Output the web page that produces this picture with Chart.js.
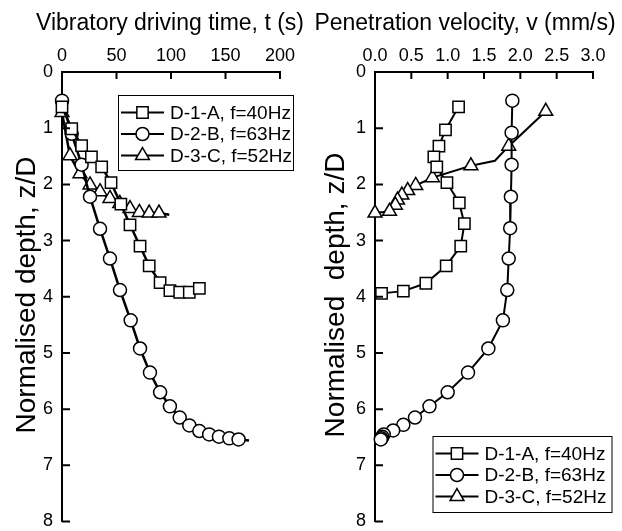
<!DOCTYPE html>
<html>
<head>
<meta charset="utf-8">
<script src="https://cdn.jsdelivr.net/npm/chart.js@4.4.1/dist/chart.umd.min.js"></script>
<style>
  html, body { margin: 0; padding: 0; background: #fff; }
  #wrap { position: relative; width: 622px; height: 531px; }
  canvas { position: absolute; top: 0; }
</style>
</head>
<body>
<div id="wrap">
  <canvas id="timeChart" width="311" height="531" style="left:0"></canvas>
  <canvas id="velChart" width="311" height="531" style="left:311px"></canvas>
</div>
<script>
// series names
const seriesNames = ['D-1-A, f=40Hz', 'D-2-B, f=63Hz', 'D-3-C, f=52Hz'];

// left panel: driving time (s) vs normalised depth
const tSquare = [0, 8.9, 18, 27, 36.4, 45, 54, 62.4, 71.6, 80, 90, 99, 108, 116.8, 126];
const zSquare = [0.62, 1.01, 1.31, 1.51, 1.69, 1.97, 2.35, 2.72, 3.10, 3.45, 3.75, 3.89, 3.92, 3.92, 3.85];
const tCircle = [0, 8.9, 18, 25.7, 34.9, 44, 53.2, 63, 71.6, 80.7, 90, 99, 108, 116.8, 126, 135, 144, 153.5, 162, 171.6];
const zCircle = [0.51, 1.10, 1.65, 2.22, 2.79, 3.32, 3.88, 4.42, 4.92, 5.35, 5.70, 5.95, 6.15, 6.29, 6.39, 6.45, 6.49, 6.52, 6.54, 6.56];
const tTri = [0, 7.3, 16.5, 25.7, 34.9, 44, 53, 62.4, 71, 80, 89, 98.4];
const zTri = [0.72, 1.49, 1.81, 2.01, 2.13, 2.25, 2.34, 2.43, 2.50, 2.51, 2.51, 2.54];

// right panel: penetration velocity (mm/s) vs normalised depth
const vSquare = [1.15, 0.97, 0.88, 0.81, 0.85, 0.99, 1.16, 1.23, 1.18, 0.98, 0.70, 0.39, 0.09, 0];
const zSquareV = [0.62, 1.03, 1.32, 1.51, 1.69, 1.97, 2.33, 2.70, 3.10, 3.45, 3.76, 3.90, 3.94, 3.95];
const vCircle = [1.89, 1.88, 1.88, 1.87, 1.86, 1.84, 1.82, 1.76, 1.56, 1.28, 1.00, 0.75, 0.55, 0.39, 0.25, 0.12, 0.10, 0.09, 0.08];
const zCircleV = [0.51, 1.08, 1.65, 2.22, 2.78, 3.32, 3.88, 4.42, 4.92, 5.35, 5.70, 5.95, 6.15, 6.28, 6.38, 6.45, 6.49, 6.52, 6.54];
const vTri = [2.35, 1.84, 1.65, 1.32, 0.79, 0.56, 0.45, 0.37, 0.31, 0.28, 0.20, 0];
const zTriV = [0.70, 1.32, 1.58, 1.67, 1.88, 2.02, 2.11, 2.19, 2.28, 2.37, 2.48, 2.51];

// line vertices without a marker
const noMarkTimeCircle = [19];
const noMarkTimeTri = [11];
const noMarkVelSquare = [13];
const noMarkVelTri = [2];

// axis ticks
const timeTicks = [0, 50, 100, 150, 200];
const velTicks = [0, 0.5, 1.0, 1.5, 2.0, 2.5, 3.0];
const depthTicks = [0, 1, 2, 3, 4, 5, 6, 7, 8];

const FONT = '"Liberation Sans", Arial, sans-serif';
const styles = ['rect', 'circle', 'triangle'];
const radii = { rect: 8, circle: 6.5, triangle: 8 };

function makeSet(i, xs, ys, noMark, lw) {
  const r = radii[styles[i]];
  return {
    label: seriesNames[i],
    data: xs.map((x, k) => ({ x: x, y: ys[k] })),
    showLine: true,
    borderColor: '#000',
    borderWidth: lw,
    tension: 0,
    pointStyle: styles[i],
    pointRadius: xs.map((x, k) => noMark.includes(k) ? 0 : r),
    pointBackgroundColor: '#fff',
    pointBorderColor: '#000',
    pointBorderWidth: 1.5,
    clip: false
  };
}

// inward ticks, axis titles and boxed legend
const framePlugin = {
  id: 'frame',
  afterDraw(chart, args, opts) {
    const ctx = chart.ctx;
    const a = chart.chartArea;
    const xs = chart.scales.x, ys = chart.scales.y;
    ctx.save();
    ctx.strokeStyle = '#000';
    ctx.lineWidth = 2;
    ctx.beginPath();
    opts.xTicks.forEach(v => {
      const px = xs.getPixelForValue(v);
      ctx.moveTo(px, a.top);
      ctx.lineTo(px, a.top + 7);
    });
    depthTicks.forEach(v => {
      const py = ys.getPixelForValue(v);
      ctx.moveTo(a.left, py);
      ctx.lineTo(a.left + 8, py);
    });
    ctx.stroke();

    ctx.fillStyle = '#000';
    ctx.font = '23px ' + FONT;
    ctx.textAlign = 'center';
    ctx.textBaseline = 'alphabetic';
    ctx.fillText(opts.xTitle, opts.xTitleX, 30);

    ctx.save();
    ctx.translate(opts.yTitleX, 295);
    ctx.rotate(-Math.PI / 2);
    ctx.font = '28px ' + FONT;
    ctx.textBaseline = 'middle';
    ctx.fillText(opts.yTitle, 0, 0);
    ctx.restore();

    // legend
    const L = opts.legend;
    ctx.fillStyle = '#fff';
    ctx.fillRect(L.x, L.y, L.w, L.h);
    ctx.lineWidth = 1;
    ctx.strokeRect(L.x + 0.5, L.y + 0.5, L.w, L.h);
    ctx.font = '19px ' + FONT;
    ctx.textAlign = 'left';
    ctx.textBaseline = 'middle';
    chart.data.datasets.forEach((ds, i) => {
      const cy = L.y + 17.5 + i * 21.5;
      ctx.strokeStyle = '#000';
      ctx.lineWidth = 2;
      ctx.beginPath();
      ctx.moveTo(L.x + 3, cy);
      ctx.lineTo(L.x + 46, cy);
      ctx.stroke();
      ctx.fillStyle = '#fff';
      ctx.lineWidth = 1.5;
      Chart.helpers.drawPoint(ctx, { pointStyle: ds.pointStyle, radius: radii[ds.pointStyle], rotation: 0, borderWidth: 1.5 }, L.x + 24.5, cy);
      ctx.fillStyle = '#000';
      ctx.fillText(ds.label, L.x + 52, cy + 1);
    });
    ctx.restore();
  }
};

function axisOpts(min, max, ticks, fmt, isX, size) {
  return {
    type: 'linear',
    position: isX ? 'top' : 'left',
    reverse: !isX,
    min: min,
    max: max,
    afterBuildTicks: s => { s.ticks = ticks.map(v => ({ value: v })); },
    ticks: {
      color: '#000',
      font: { family: FONT, size: 18 },
      padding: isX ? 5 : 9,
      maxRotation: 0,
      autoSkip: false,
      callback: fmt
    },
    grid: { display: false, drawTicks: false },
    border: { display: true, color: '#000', width: 2 },
    afterFit: s => {
      if (isX) s.height = size; else s.width = size;
      s.paddingTop = 0; s.paddingBottom = 0;
      s.paddingLeft = 0; s.paddingRight = 0;
    }
  };
}

function makeChart(id, datasets, xMin, xMax, xTicks, fmt, yAxisW, padRight, frame) {
  return new Chart(document.getElementById(id), {
    type: 'scatter',
    data: { datasets: datasets },
    options: {
      responsive: false,
      animation: false,
      devicePixelRatio: 1,
      events: [],
      layout: { padding: { top: 0, left: 0, right: padRight, bottom: 5 } },
      scales: {
        x: axisOpts(xMin, xMax, xTicks, fmt, true, 72),
        y: axisOpts(0, 8, depthTicks, v => String(v), false, yAxisW)
      },
      plugins: {
        legend: { display: false },
        tooltip: { enabled: false },
        frame: frame
      }
    },
    plugins: [framePlugin]
  });
}

makeChart('timeChart', [
  makeSet(0, tSquare, zSquare, [], 2.5),
  makeSet(1, tCircle, zCircle, noMarkTimeCircle, 2.5),
  makeSet(2, tTri, zTri, noMarkTimeTri, 2.5)
], 0, 200, timeTicks, v => String(v), 62, 31, {
  xTicks: timeTicks,
  xTitle: 'Vibratory driving time, t (s)',
  xTitleX: 170,
  yTitle: 'Normalised depth, z/D',
  yTitleX: 27,
  legend: { x: 118, y: 95, w: 175, h: 75 }
});

makeChart('velChart', [
  makeSet(0, vSquare, zSquareV, noMarkVelSquare, 2),
  makeSet(1, vCircle, zCircleV, [], 2),
  makeSet(2, vTri, zTriV, noMarkVelTri, 2)
], 0, 3, velTicks, v => v.toFixed(1), 64, 29, {
  xTicks: velTicks,
  xTitle: 'Penetration velocity, v (mm/s)',
  xTitleX: 154,
  yTitle: 'Normalised  depth, z/D',
  yTitleX: 25,
  legend: { x: 121.5, y: 436, w: 179, h: 76 }
});
</script>
</body>
</html>
